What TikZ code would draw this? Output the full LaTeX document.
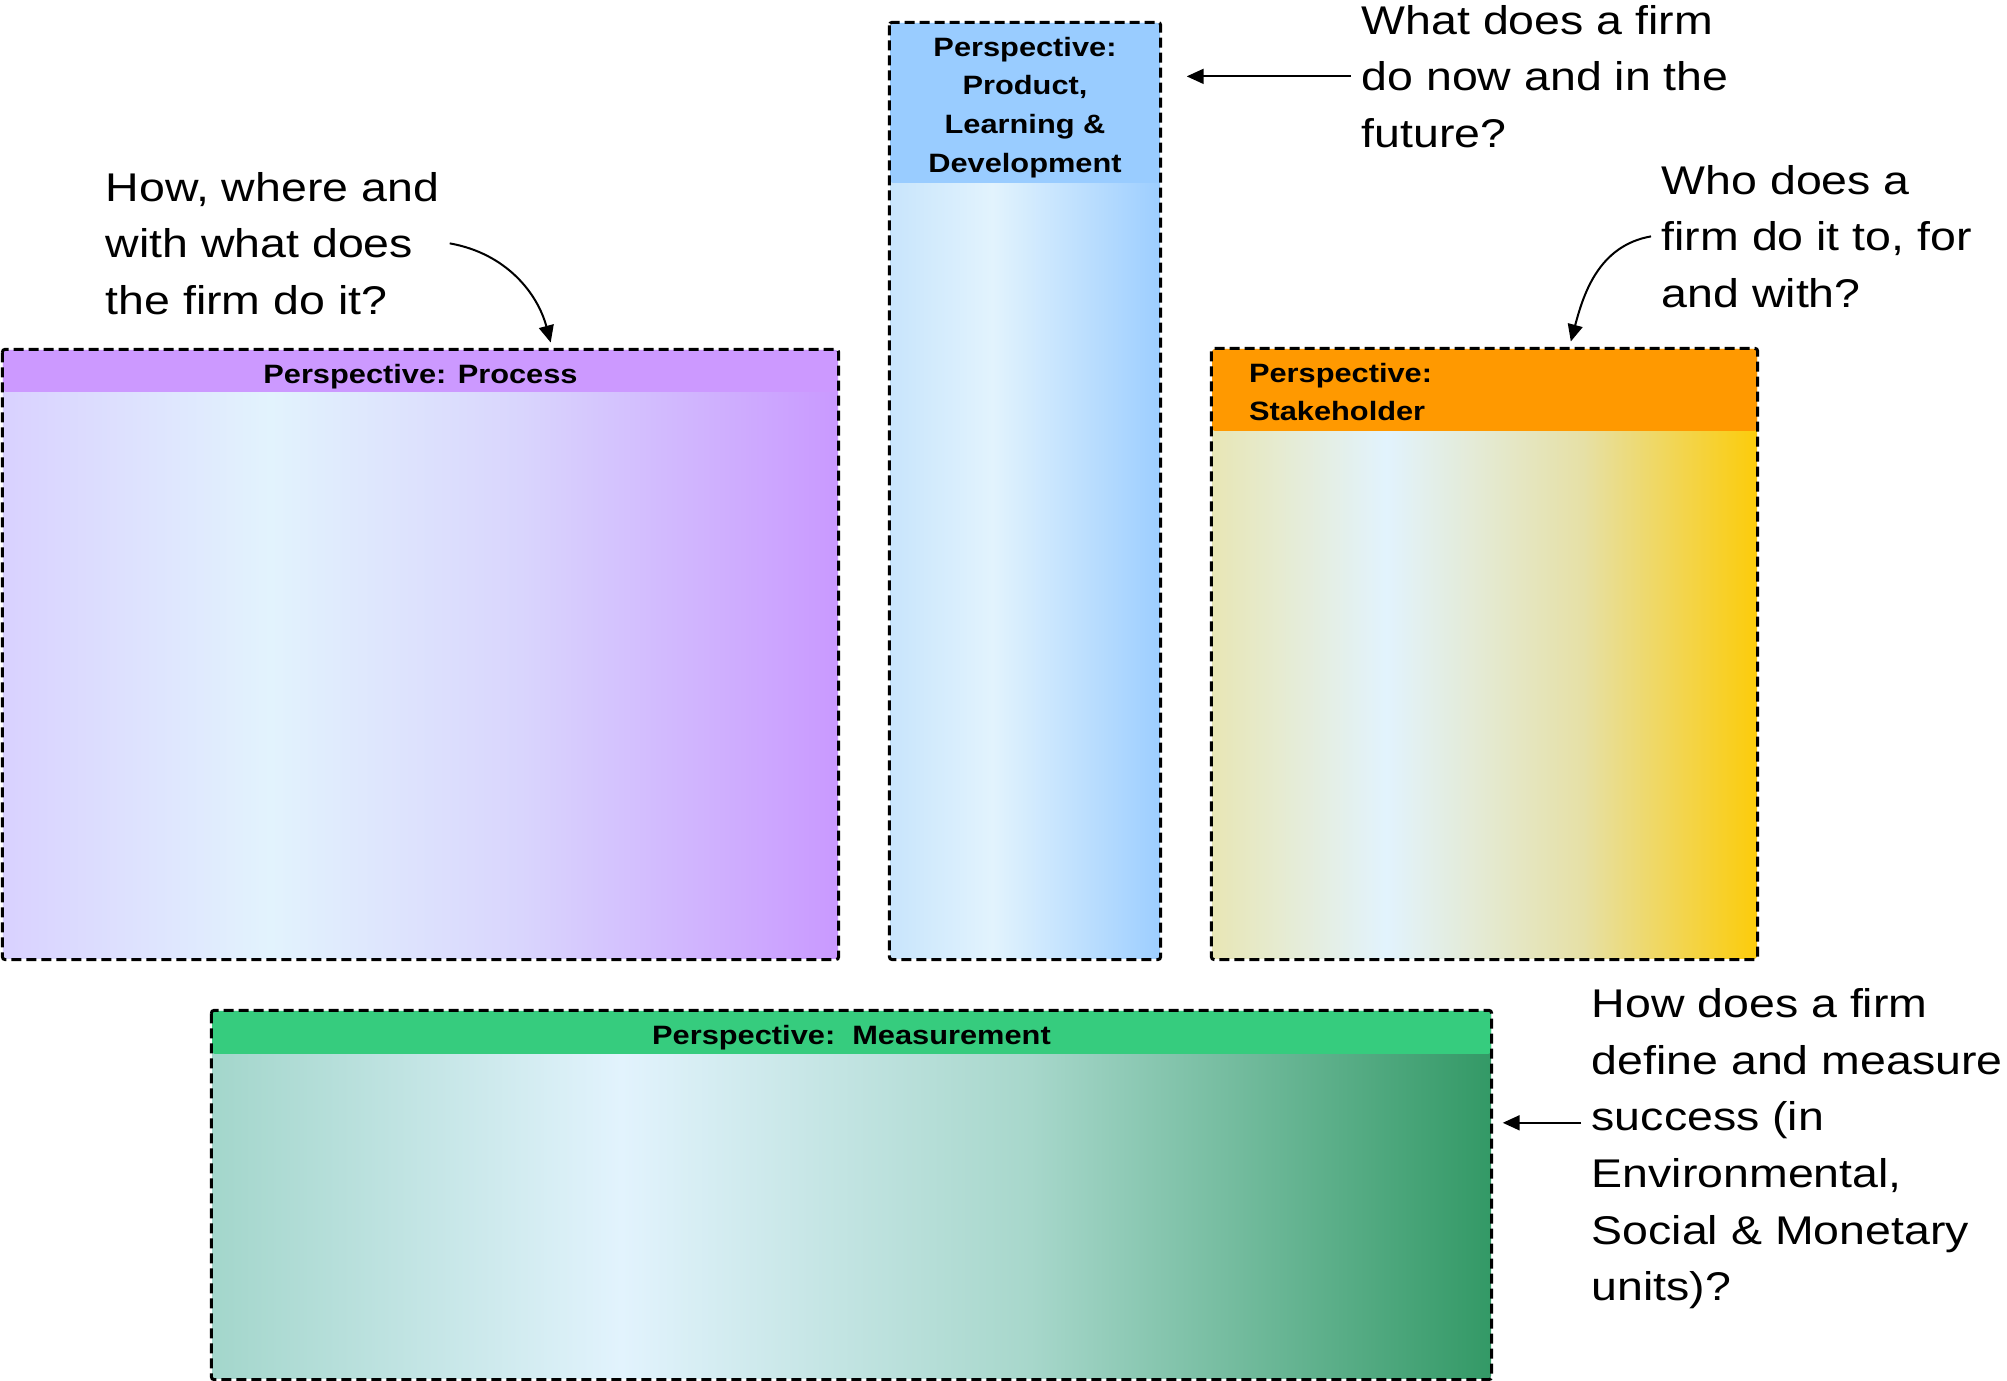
\documentclass[tikz,border=0pt]{standalone}
\usepackage{fontspec}
\setmainfont{Liberation Sans}[FakeStretch=1.16]
\usetikzlibrary{arrows.meta, positioning, calc}

\definecolor{pIce}      {HTML}{E2F3FD}
\definecolor{pPurple}   {HTML}{CC99FF}
\definecolor{pLilac}    {HTML}{D9D1FF}
\definecolor{pLilacMid} {HTML}{D9D5FD}
\definecolor{pViolet}   {HTML}{C999FF}
\definecolor{pBlue}     {HTML}{99CCFF}
\definecolor{pBlueLt}   {HTML}{C8E5FC}
\definecolor{pBlueDk}   {HTML}{9DCEFF}
\definecolor{pOrange}   {HTML}{FF9900}
\definecolor{pKhaki}    {HTML}{E8E6B5}
\definecolor{pKhakiMid} {HTML}{E6E0A6}
\definecolor{pGold}     {HTML}{FCCC0A}
\definecolor{pGreen}    {HTML}{36CC7E}
\definecolor{pTeal}     {HTML}{A3D6CB}
\definecolor{pTealMid}  {HTML}{A7D7CB}
\definecolor{pForest}   {HTML}{339966}

% left-to-right fills, visible part runs from 25bp to 75bp
\pgfdeclarehorizontalshading{procShade}{100bp}{color(0bp)=(pLilac); color(25bp)=(pLilac);
  color(41bp)=(pIce); color(56bp)=(pLilacMid); color(75bp)=(pViolet); color(100bp)=(pViolet)}
\pgfdeclarehorizontalshading{prodShade}{100bp}{color(0bp)=(pBlueLt); color(25bp)=(pBlueLt);
  color(44bp)=(pIce); color(75bp)=(pBlueDk); color(100bp)=(pBlueDk)}
\pgfdeclarehorizontalshading{stakeShade}{100bp}{color(0bp)=(pKhaki); color(25bp)=(pKhaki);
  color(41bp)=(pIce); color(59bp)=(pKhakiMid); color(75bp)=(pGold); color(100bp)=(pGold)}
\pgfdeclarehorizontalshading{measShade}{100bp}{color(0bp)=(pTeal); color(25bp)=(pTeal);
  color(41bp)=(pIce); color(57bp)=(pTealMid); color(75bp)=(pForest); color(100bp)=(pForest)}

\tikzset{
  panel/.style={rectangle, inner sep=0pt, rounded corners=0.03cm},
  band/.style 2 args={path picture={\fill[#1] (path picture bounding box.north west)
    rectangle ([yshift=-#2]path picture bounding box.north east);}},
  header/.style={anchor=north, inner sep=0pt, align=center,
    font=\fontsize{7.55pt}{11pt}\selectfont\bfseries},
  frame/.style={draw=black, line width=0.03cm, dash pattern=on 0.1cm off 0.05cm,
    rounded corners=0.03cm},
  question/.style={anchor=north west, inner sep=0.1cm, align=left,
    font=\fontsize{11.4pt}{16.1pt}\selectfont},
  pointer/.style={-{Triangle[length=0.17cm, width=0.15cm]}, line width=0.02cm}
}

\begin{document}
\begin{tikzpicture}
  \useasboundingbox (0,0) rectangle (20.07,13.81);

  % Perspective panels with their title bands
  \node[panel, minimum width=8.35cm, minimum height=6.09cm, shading=procShade,
    band={pPurple}{0.42cm}] (proc) at (4.205,7.265) {};
  \node[panel, minimum width=2.70cm, minimum height=9.36cm, shading=prodShade,
    band={pBlue}{1.60cm}] (prod) at (10.25,8.90) {};
  \node[panel, minimum width=5.45cm, minimum height=6.10cm, shading=stakeShade,
    band={pOrange}{0.82cm}] (stake) at (14.845,7.27) {};
  \node[panel, minimum width=12.79cm, minimum height=3.68cm, shading=measShade,
    band={pGreen}{0.43cm}] (meas) at (8.515,1.86) {};

  \foreach \b in {proc, prod, stake, meas}
    \draw[frame] (\b.north west) rectangle (\b.south east);

  % Titles
  \node[header] (procHead) at ([yshift=-0.14cm]proc.north) {Perspective: Process};
  \node[header] (prodHead) at ([yshift=-0.14cm]prod.north)
    {Perspective:\\Product,\\Learning \&\\Development};
  \node[header, anchor=north west, align=left] (stakeHead)
    at ([xshift=0.37cm, yshift=-0.14cm]stake.north west) {Perspective:\\Stakeholder};
  \node[header] (measHead) at ([yshift=-0.14cm]meas.north) {Perspective:\ \ Measurement};

  % Questions
  \node[question] (qproc) at (0.95,12.196) {How, where and\\with what does\\the firm do it?};
  \node[question] (qprod) at (13.51,13.866) {What does a firm\\do now and in the\\future?};
  \node[question] (qstake) at (16.51,12.266) {Who does a\\firm do it to, for\\and with?};
  \node[question] (qmeas) at (15.81,4.03)
    {How does a firm\\define and measure\\success (in\\Environmental,\\Social \& Monetary\\units)?};

  \draw[pointer, shorten >=0.07cm] (qproc.east) to[out=-10, in=105] ([xshift=1.32cm]proc.north);
  \draw[pointer, shorten >=0.26cm] (qprod.west) -- (qprod.west -| prod.east);
  \draw[pointer, shorten >=0.07cm] (qstake.west) to[out=190, in=75] ([xshift=0.845cm]stake.north);
  \coordinate (measTail) at ([yshift=0.26cm]qmeas.west);
  \draw[pointer, shorten >=0.11cm] (measTail) -- (measTail -| meas.east);
\end{tikzpicture}
\end{document}
